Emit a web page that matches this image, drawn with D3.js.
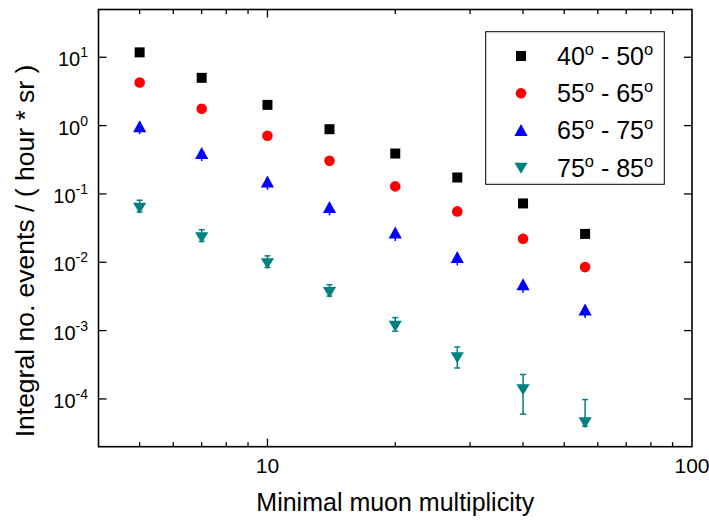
<!DOCTYPE html>
<html>
<head>
<meta charset="utf-8">
<script src="https://cdn.jsdelivr.net/npm/d3@7/dist/d3.min.js"></script>
<style>
  body { margin: 0; background: #fff; }
  text { font-family: Arial, "Liberation Sans", sans-serif; fill: #000; }
</style>
</head>
<body>
<svg></svg>
<script>
const width = 709;
const height = 520;

// data
const multiplicity = [5, 7, 10, 14, 20, 28, 40, 56];
const rate40_50 = [11.8, 5.0, 2.01, 0.886, 0.39, 0.174, 0.0726, 0.026];
const rate55_65 = [4.27, 1.76, 0.71, 0.305, 0.129, 0.0555, 0.0221, 0.0085];
const rate65_75 = [0.977, 0.398, 0.152, 0.0646, 0.0273, 0.0119, 0.00478, 0.00203];
const err65_75Up = [0.1, 0.04, 0.015, 0.0065, 0.0027, 0.0012, 0.0005, 0.0002];
const err65_75Down = [0.23, 0.095, 0.037, 0.016, 0.0068, 0.0029, 0.0012, 0.0005];
const rate75_85 = [0.0618, 0.0229, 0.0095, 0.0036, 0.00116, 0.00040, 0.000136, 0.0000449];
const err75_85Up = [0.019, 0.007, 0.0029, 0.0011, 0.00039, 0.000175, 0.000092, 0.000053];
const err75_85Down = [0.0075, 0.0027, 0.0011, 0.0004, 0.00018, 0.000116, 0.000076, 0.000005];
const angleFrom = [40, 55, 65, 75];
const angleTo = [50, 65, 75, 85];
const colors = ["#000000", "#ff0000", "#0000ff", "#008080"];
const shapes = ["square", "circle", "up", "down"];

const plotLeft = 98.5, plotTop = 9.5, plotRight = 692, plotBottom = 446.7;

let svg = d3.select("svg").attr("width", width).attr("height", height);

const x = d3.scaleLog().domain([4, 100]).range([plotLeft, plotRight]);
const y = d3.scaleLog().domain([2e-5, 50]).range([plotBottom, plotTop]);

function symbolPath(shape) {
    if (shape == "square") return "M-5,-5H5V5H-5Z";
    if (shape == "circle") return "M5.3,0A5.3,5.3 0 1,1 -5.3,0A5.3,5.3 0 1,1 5.3,0Z";
    if (shape == "up") return "M0,-6L6.6,6L-6.6,6Z";
    return "M-6.6,-5.5L6.6,-5.5L0,5.5Z";
}

const series = [
    { vals: rate40_50, up: null, down: null, caps: false },
    { vals: rate55_65, up: null, down: null, caps: false },
    { vals: rate65_75, up: err65_75Up, down: err65_75Down, caps: false },
    { vals: rate75_85, up: err75_85Up, down: err75_85Down, caps: true }
];

// ticks, all pointing inwards
const isMajor = (v) => Math.abs(Math.log10(v) - Math.round(Math.log10(v))) < 1e-6;
const axes = svg.append("g").attr("stroke", "#000").attr("stroke-width", 1.3);
x.ticks().filter(v => v > 4 && v < 100).forEach(v => {
    let len = isMajor(v) ? 8 : 4.5;
    axes.append("line").attr("x1", x(v)).attr("x2", x(v)).attr("y1", plotBottom).attr("y2", plotBottom - len);
    axes.append("line").attr("x1", x(v)).attr("x2", x(v)).attr("y1", plotTop).attr("y2", plotTop + len);
});
y.ticks().filter(v => isMajor(v)).forEach(v => {
    axes.append("line").attr("x1", plotLeft).attr("x2", plotLeft + 8).attr("y1", y(v)).attr("y2", y(v));
    axes.append("line").attr("x1", plotRight).attr("x2", plotRight - 8).attr("y1", y(v)).attr("y2", y(v));
});

svg.append("rect").attr("x", plotLeft).attr("y", plotTop)
    .attr("width", plotRight - plotLeft).attr("height", plotBottom - plotTop)
    .attr("fill", "none").attr("stroke", "#000").attr("stroke-width", 1.6);

// x tick labels
[10, 100].forEach(v => {
    svg.append("text").attr("x", x(v)).attr("y", 473).attr("text-anchor", "middle")
        .attr("font-size", 21).text(v);
});

// y tick labels
y.ticks().filter(v => isMajor(v)).forEach(v => {
    let t = svg.append("text").attr("x", 88).attr("y", y(v) + 9).attr("text-anchor", "end").attr("font-size", 20);
    t.append("tspan").text("10");
    t.append("tspan").attr("dy", -9).attr("font-size", 14).text(Math.round(Math.log10(v)));
});

// axis titles
svg.append("text").attr("x", (plotLeft + plotRight) / 2).attr("y", 511).attr("text-anchor", "middle")
    .attr("font-size", 25).text("Minimal muon multiplicity");
svg.append("text").attr("transform", "translate(34,251) rotate(-90)").attr("text-anchor", "middle")
    .attr("font-size", 26.5).text("Integral no. events / ( hour * sr )");

// error bars then markers
series.forEach((s, i) => {
    if (!s.up) return;
    let g = svg.append("g").attr("stroke", colors[i]).attr("stroke-width", 1.5);
    s.vals.forEach((v, j) => {
        let cx = x(multiplicity[j]);
        let y1 = y(v + s.up[j]), y2 = y(v - s.down[j]);
        g.append("line").attr("x1", cx).attr("x2", cx).attr("y1", y1).attr("y2", y2);
        if (!s.caps) return;
        g.append("line").attr("x1", cx - 3).attr("x2", cx + 3).attr("y1", y1).attr("y2", y1);
        g.append("line").attr("x1", cx - 3).attr("x2", cx + 3).attr("y1", y2).attr("y2", y2);
    });
});
series.forEach((s, i) => {
    svg.append("g").selectAll("path").data(s.vals).join("path")
        .attr("d", symbolPath(shapes[i]))
        .attr("transform", (d, j) => `translate(${x(multiplicity[j])},${y(d)})`)
        .attr("fill", colors[i]);
});

// legend
const legend = svg.append("g");
legend.append("rect").attr("x", 485.7).attr("y", 31.7).attr("width", 178.6).attr("height", 152.6)
    .attr("fill", "#fff").attr("stroke", "#000").attr("stroke-width", 1);
const legendRows = [56, 93.3, 130, 168.3];
angleFrom.forEach((a, i) => {
    legend.append("path").attr("d", symbolPath(shapes[i]))
        .attr("transform", `translate(521,${legendRows[i]})`).attr("fill", colors[i]);
    let t = legend.append("text").attr("x", 557).attr("y", legendRows[i] + 9).attr("font-size", 25);
    t.append("tspan").text(a);
    t.append("tspan").attr("dy", -10).attr("font-size", 16.5).text("o");
    t.append("tspan").attr("dy", 10).text(" - " + angleTo[i]);
    t.append("tspan").attr("dy", -10).attr("font-size", 16.5).text("o");
});
</script>
</body>
</html>
